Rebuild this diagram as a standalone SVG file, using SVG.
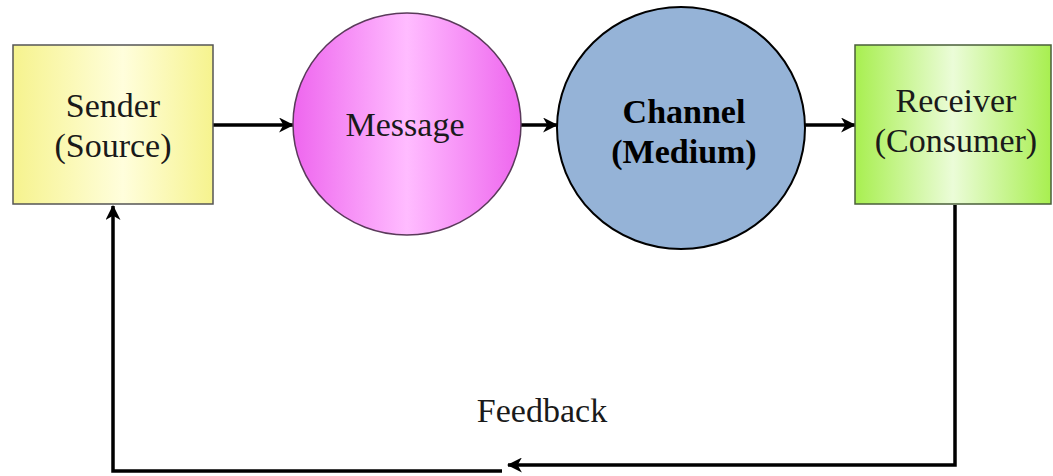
<svg xmlns="http://www.w3.org/2000/svg" width="1053" height="476" viewBox="0 0 1053 476">
<style>
.t{font-family:"Liberation Serif","Times New Roman",serif;font-size:34px;fill:#1a1a1a;text-anchor:middle}
.b{font-weight:bold;fill:#000}
.c{fill:none;stroke:#000;stroke-width:3.5}
</style>
<defs>
<linearGradient id="gy" x1="0" x2="1" y1="0" y2="0">
<stop offset="0" stop-color="#f6f38e"/><stop offset="0.55" stop-color="#fffedc"/><stop offset="1" stop-color="#f6f38e"/>
</linearGradient>
<linearGradient id="gp" x1="0" x2="1" y1="0" y2="0">
<stop offset="0" stop-color="#ee66ee"/><stop offset="0.5" stop-color="#ffbcff"/><stop offset="1" stop-color="#ee66ee"/>
</linearGradient>
<linearGradient id="gg" x1="0" x2="1" y1="0" y2="0">
<stop offset="0" stop-color="#a8ef50"/><stop offset="0.5" stop-color="#ebfcd8"/><stop offset="1" stop-color="#a8ef50"/>
</linearGradient>
<marker id="ar" viewBox="0 0 14 14" refX="13" refY="7" markerWidth="15" markerHeight="15" markerUnits="userSpaceOnUse" orient="auto">
<path d="M0,0 L14,7 L0,14 L4,7 z" fill="#000"/>
</marker>
</defs>
<g id="connectors">
<line class="c" x1="213" y1="125" x2="293" y2="125" marker-end="url(#ar)"/>
<line class="c" x1="521" y1="125" x2="557" y2="125" marker-end="url(#ar)"/>
<line class="c" x1="805" y1="125" x2="855" y2="125" marker-end="url(#ar)"/>
<polyline class="c" points="955,205 955,465 508,465" marker-end="url(#ar)" stroke-width="4"/>
<polyline class="c" points="502,471 113,471 113,206" marker-end="url(#ar)" stroke-width="4"/>
</g>
<g id="sender">
<rect x="13" y="45" width="200" height="159" fill="url(#gy)" stroke="#555" stroke-width="1.5"/>
<text class="t" x="113" y="117">Sender</text>
<text class="t" x="113" y="157">(Source)</text>
</g>
<g id="message">
<ellipse cx="407" cy="124" rx="114" ry="111" fill="url(#gp)" stroke="#5a3a5a" stroke-width="1.5"/>
<text class="t" x="405" y="136" fill="#2a1a2a">Message</text>
</g>
<g id="channel">
<ellipse cx="681" cy="128" rx="124" ry="121" fill="#95b3d7" stroke="#000" stroke-width="2"/>
<text class="t b" x="684" y="123">Channel</text>
<text class="t b" x="684" y="163">(Medium)</text>
</g>
<g id="receiver">
<rect x="855" y="45" width="196" height="159" fill="url(#gg)" stroke="#4a5f3a" stroke-width="1.5"/>
<text class="t" x="956" y="112">Receiver</text>
<text class="t" x="956" y="152">(Consumer)</text>
</g>
<text id="feedback" class="t" x="542" y="422">Feedback</text>
</svg>
